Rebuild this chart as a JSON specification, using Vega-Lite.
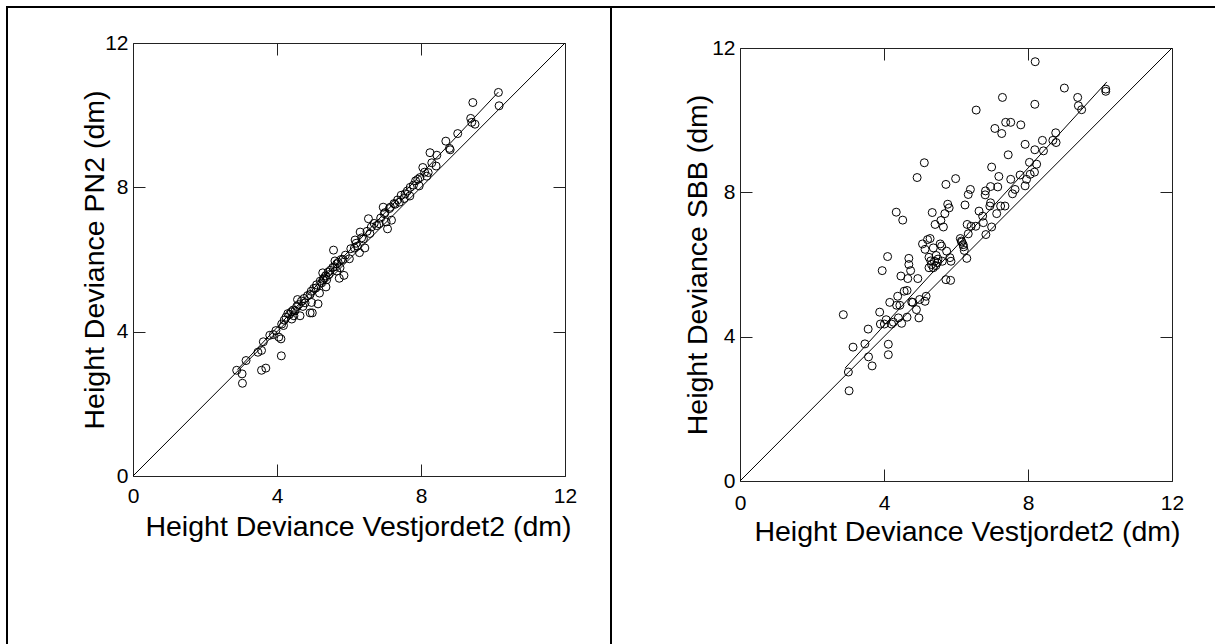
{
  "$schema": "https://vega.github.io/schema/vega-lite/v6.json",
  "padding": {"left": 6, "top": 6, "right": 0, "bottom": 0},
  "background": "white",
  "spacing": 0,
  "bounds": "flush",
  "config": {
    "view": {"stroke": "#000", "strokeWidth": 2},
    "axis": {
      "grid": false,
      "domainColor": "#222",
      "tickColor": "#222",
      "domainWidth": 1,
      "tickWidth": 1,
      "tickSize": -12,
      "labelFont": "Liberation Sans",
      "labelFontSize": 21,
      "labelColor": "#000",
      "labelFlush": false,
      "labelOverlap": false,
      "titleFont": "Liberation Sans",
      "titleFontSize": 28.5,
      "titleFontWeight": "normal",
      "titleColor": "#000"
    },
    "point": {"shape": "circle", "filled": false, "size": 64, "strokeWidth": 1, "color": "#000", "opacity": 1},
    "line": {"color": "#000", "strokeWidth": 1}
  },
  "datasets": {
    "diag": [{"x": 0, "y": 0}, {"x": 12, "y": 12}],
    "regL": [{"x": 2.9, "y": 2.95}, {"x": 10.15, "y": 10.64}],
    "regR": [{"x": 2.92, "y": 3.13}, {"x": 10.19, "y": 11.06}],
    "pn2": [
      {"x":2.88,"y":2.93},{"x":3.03,"y":2.83},{"x":3.04,"y":2.57},{"x":3.14,"y":3.20},{"x":3.57,"y":2.93},{"x":3.69,"y":2.99},{"x":3.47,"y":3.43},{"x":3.57,"y":3.48},{"x":4.12,"y":3.33},{"x":4.11,"y":3.80},{"x":4.05,"y":3.85},{"x":3.90,"y":3.92},{"x":3.97,"y":4.03},{"x":4.13,"y":4.21},{"x":4.18,"y":4.17},{"x":4.30,"y":4.50},{"x":4.41,"y":4.35},{"x":4.47,"y":4.44},{"x":4.50,"y":4.58},{"x":4.57,"y":4.89},{"x":4.64,"y":4.44},{"x":4.72,"y":4.70},{"x":4.78,"y":4.80},{"x":4.92,"y":4.52},{"x":4.98,"y":4.52},{"x":5.14,"y":4.77},{"x":4.92,"y":5.03},{"x":4.96,"y":4.81},{"x":5.08,"y":5.21},{"x":5.18,"y":5.07},{"x":5.24,"y":5.35},{"x":5.31,"y":5.49},{"x":5.38,"y":5.44},{"x":5.44,"y":5.58},{"x":5.27,"y":5.63},{"x":5.36,"y":5.24},{"x":5.57,"y":6.26},{"x":5.61,"y":5.96},{"x":5.66,"y":5.88},{"x":5.75,"y":5.77},{"x":5.86,"y":5.56},{"x":5.73,"y":5.48},{"x":5.66,"y":5.68},{"x":5.83,"y":6.00},{"x":6.01,"y":6.02},{"x":6.15,"y":6.32},{"x":6.17,"y":6.54},{"x":6.31,"y":6.76},{"x":6.40,"y":6.57},{"x":6.29,"y":6.19},{"x":6.44,"y":6.32},{"x":6.23,"y":6.37},{"x":6.54,"y":7.13},{"x":6.58,"y":6.72},{"x":6.77,"y":6.94},{"x":6.84,"y":6.99},{"x":6.95,"y":7.45},{"x":6.98,"y":7.27},{"x":7.07,"y":6.85},{"x":7.12,"y":7.41},{"x":7.18,"y":7.09},{"x":7.03,"y":7.04},{"x":7.28,"y":7.53},{"x":7.40,"y":7.59},{"x":7.53,"y":7.69},{"x":7.56,"y":7.82},{"x":7.62,"y":7.90},{"x":7.69,"y":7.76},{"x":7.79,"y":8.06},{"x":7.91,"y":8.22},{"x":7.95,"y":8.04},{"x":7.97,"y":8.27},{"x":8.05,"y":8.55},{"x":8.16,"y":8.31},{"x":8.20,"y":8.41},{"x":8.25,"y":8.96},{"x":8.42,"y":8.59},{"x":8.44,"y":8.89},{"x":8.69,"y":9.28},{"x":8.79,"y":9.08},{"x":8.81,"y":9.04},{"x":9.02,"y":9.49},{"x":9.38,"y":9.91},{"x":9.44,"y":10.35},{"x":9.41,"y":9.80},{"x":9.50,"y":9.75},{"x":10.15,"y":10.63},{"x":10.17,"y":10.26},
      {"x":4.20,"y":4.32},{"x":4.25,"y":4.40},{"x":4.35,"y":4.48},{"x":4.40,"y":4.55},{"x":4.45,"y":4.60},{"x":4.55,"y":4.70},{"x":4.60,"y":4.75},{"x":4.68,"y":4.85},{"x":4.75,"y":4.92},{"x":4.85,"y":5.00},{"x":4.95,"y":5.12},{"x":5.02,"y":5.20},{"x":5.10,"y":5.30},{"x":5.20,"y":5.40},{"x":5.28,"y":5.45},{"x":5.35,"y":5.55},{"x":5.42,"y":5.65},{"x":5.48,"y":5.70},{"x":5.55,"y":5.78},{"x":5.60,"y":5.80},{"x":5.70,"y":5.92},{"x":5.78,"y":6.00},{"x":5.90,"y":6.12},{"x":6.05,"y":6.30},{"x":6.20,"y":6.45},{"x":6.35,"y":6.60},{"x":6.50,"y":6.78},{"x":6.62,"y":6.90},{"x":6.70,"y":7.00},{"x":6.88,"y":7.15},{"x":7.00,"y":7.30},{"x":7.15,"y":7.45},{"x":7.25,"y":7.55},{"x":7.35,"y":7.65},{"x":7.45,"y":7.78},{"x":7.70,"y":8.00},{"x":7.85,"y":8.18},{"x":8.10,"y":8.42},{"x":8.30,"y":8.68},{"x":3.80,"y":3.90},{"x":3.62,"y":3.72}
    ],
    "sbb": [
      {"x":2.87,"y":4.61},{"x":3.01,"y":3.02},{"x":3.03,"y":2.50},{"x":3.14,"y":3.71},{"x":3.47,"y":3.80},{"x":3.56,"y":4.21},{"x":3.57,"y":3.44},{"x":3.67,"y":3.19},{"x":3.88,"y":4.68},{"x":3.90,"y":4.35},{"x":3.95,"y":5.83},{"x":4.01,"y":4.35},{"x":4.06,"y":4.47},{"x":4.12,"y":3.79},{"x":4.12,"y":3.50},{"x":4.10,"y":6.22},{"x":4.16,"y":4.95},{"x":4.21,"y":4.35},{"x":4.26,"y":4.40},{"x":4.34,"y":7.45},{"x":4.35,"y":4.87},{"x":4.38,"y":5.12},{"x":4.40,"y":4.52},{"x":4.44,"y":4.87},{"x":4.47,"y":5.68},{"x":4.49,"y":4.37},{"x":4.52,"y":7.23},{"x":4.56,"y":5.26},{"x":4.64,"y":5.28},{"x":4.64,"y":4.54},{"x":4.66,"y":5.61},{"x":4.69,"y":6.17},{"x":4.69,"y":6.00},{"x":4.74,"y":5.83},{"x":4.77,"y":4.96},{"x":4.90,"y":4.75},{"x":4.92,"y":8.41},{"x":4.94,"y":5.61},{"x":4.97,"y":4.52},{"x":4.99,"y":5.03},{"x":5.07,"y":6.57},{"x":5.12,"y":8.82},{"x":5.14,"y":6.42},{"x":5.14,"y":4.98},{"x":5.17,"y":5.12},{"x":5.21,"y":6.69},{"x":5.25,"y":5.91},{"x":5.25,"y":6.20},{"x":5.28,"y":6.72},{"x":5.32,"y":6.00},{"x":5.34,"y":7.44},{"x":5.37,"y":6.46},{"x":5.37,"y":5.91},{"x":5.40,"y":6.09},{"x":5.42,"y":7.11},{"x":5.44,"y":5.97},{"x":5.48,"y":6.05},{"x":5.56,"y":6.57},{"x":5.60,"y":6.51},{"x":5.58,"y":7.22},{"x":5.62,"y":6.09},{"x":5.65,"y":7.04},{"x":5.69,"y":7.41},{"x":5.72,"y":8.22},{"x":5.72,"y":5.58},{"x":5.74,"y":6.37},{"x":5.77,"y":7.67},{"x":5.81,"y":7.57},{"x":5.83,"y":6.19},{"x":5.85,"y":5.56},{"x":5.86,"y":6.09},{"x":5.99,"y":8.38},{"x":6.12,"y":6.72},{"x":6.16,"y":6.62},{"x":6.21,"y":6.49},{"x":6.23,"y":6.39},{"x":6.25,"y":7.65},{"x":6.30,"y":6.17},{"x":6.31,"y":7.11},{"x":6.34,"y":7.94},{"x":6.34,"y":6.85},{"x":6.40,"y":8.08},{"x":6.42,"y":7.06},{"x":6.55,"y":7.06},{"x":6.56,"y":10.28},{"x":6.64,"y":7.48},{"x":6.74,"y":7.34},{"x":6.76,"y":7.16},{"x":6.81,"y":7.93},{"x":6.82,"y":8.04},{"x":6.83,"y":6.83},{"x":6.94,"y":7.62},{"x":6.96,"y":7.71},{"x":6.96,"y":8.16},{"x":6.99,"y":7.04},{"x":6.99,"y":8.70},{"x":7.08,"y":9.77},{"x":7.13,"y":7.41},{"x":7.16,"y":8.15},{"x":7.19,"y":8.44},{"x":7.24,"y":7.62},{"x":7.27,"y":9.63},{"x":7.29,"y":10.63},{"x":7.36,"y":7.62},{"x":7.38,"y":9.94},{"x":7.45,"y":9.04},{"x":7.52,"y":9.94},{"x":7.52,"y":8.36},{"x":7.57,"y":7.96},{"x":7.64,"y":8.08},{"x":7.78,"y":8.48},{"x":7.80,"y":9.87},{"x":7.92,"y":9.33},{"x":7.92,"y":8.18},{"x":7.96,"y":8.36},{"x":8.04,"y":8.83},{"x":8.06,"y":8.50},{"x":8.18,"y":8.56},{"x":8.19,"y":9.18},{"x":8.19,"y":10.44},{"x":8.20,"y":11.62},{"x":8.24,"y":8.78},{"x":8.40,"y":9.44},{"x":8.43,"y":9.15},{"x":8.69,"y":9.44},{"x":8.77,"y":9.65},{"x":8.78,"y":9.38},{"x":9.01,"y":10.89},{"x":9.38,"y":10.63},{"x":9.40,"y":10.40},{"x":9.49,"y":10.29},{"x":10.16,"y":10.86},{"x":10.16,"y":10.80},
      {"x":5.30,"y":6.10},{"x":5.45,"y":6.25},{"x":5.50,"y":6.15},{"x":4.80,"y":4.95},{"x":6.15,"y":6.65},{"x":6.20,"y":6.55}
    ]
  },
  "hconcat": [
    {
      "width": 604,
      "height": 640,
      "layer": [
        {
          "data": {"name": "diag"},
          "mark": {"type": "line", "clip": false},
          "encoding": {
            "x": {"field": "x", "type": "quantitative", "scale": {"domain": [0, 12], "range": [126, 558], "nice": false, "zero": false},
              "axis": {"orient": "bottom", "offset": -171, "values": [0, 4, 8, 12], "format": "d", "labelPadding": 21, "title": "Height Deviance Vestjordet2 (dm)", "titleX": 351, "titleY": 59, "titleBaseline": "alphabetic", "titleAlign": "center"}},
            "y": {"field": "y", "type": "quantitative", "scale": {"domain": [0, 12], "range": [469, 36], "nice": false, "zero": false},
              "axis": {"orient": "left", "offset": -126, "values": [0, 4, 8, 12], "format": "d", "labelPadding": 17, "title": "Height Deviance PN2 (dm)", "titleX": -30, "titleBaseline": "alphabetic", "titleAngle": -90, "titleAlign": "center"}}
          }
        },
        {
          "data": {"name": "regL"},
          "mark": {"type": "line", "clip": false},
          "encoding": {
            "x": {"field": "x", "type": "quantitative", "scale": {"domain": [0, 12], "range": [126, 558], "nice": false, "zero": false},
              "axis": {"orient": "top", "offset": -36, "values": [0, 4, 8, 12], "labels": false, "title": null}},
            "y": {"field": "y", "type": "quantitative", "scale": {"domain": [0, 12], "range": [469, 36], "nice": false, "zero": false},
              "axis": {"orient": "right", "offset": -46, "values": [0, 4, 8, 12], "labels": false, "title": null}}
          }
        },
        {
          "data": {"name": "pn2"},
          "mark": {"type": "point", "clip": false},
          "encoding": {
            "x": {"field": "x", "type": "quantitative", "scale": {"domain": [0, 12], "range": [126, 558], "nice": false, "zero": false}, "axis": null},
            "y": {"field": "y", "type": "quantitative", "scale": {"domain": [0, 12], "range": [469, 36], "nice": false, "zero": false}, "axis": null}
          }
        }
      ],
      "resolve": {"axis": {"x": "independent", "y": "independent"}}
    },
    {
      "width": 606,
      "height": 640,
      "layer": [
        {
          "data": {"name": "diag"},
          "mark": {"type": "line", "clip": false},
          "encoding": {
            "x": {"field": "x", "type": "quantitative", "scale": {"domain": [0, 12], "range": [129, 561], "nice": false, "zero": false},
              "axis": {"orient": "bottom", "offset": -166, "values": [0, 4, 8, 12], "format": "d", "labelPadding": 23, "title": "Height Deviance Vestjordet2 (dm)", "titleX": 356, "titleY": 59, "titleBaseline": "alphabetic", "titleAlign": "center"}},
            "y": {"field": "y", "type": "quantitative", "scale": {"domain": [0, 12], "range": [474, 41], "nice": false, "zero": false},
              "axis": {"orient": "left", "offset": -129, "values": [0, 4, 8, 12], "format": "d", "labelPadding": 17, "title": "Height Deviance SBB (dm)", "titleX": -34, "titleBaseline": "alphabetic", "titleAngle": -90, "titleAlign": "center"}}
          }
        },
        {
          "data": {"name": "regR"},
          "mark": {"type": "line", "clip": false},
          "encoding": {
            "x": {"field": "x", "type": "quantitative", "scale": {"domain": [0, 12], "range": [129, 561], "nice": false, "zero": false},
              "axis": {"orient": "top", "offset": -41, "values": [0, 4, 8, 12], "labels": false, "title": null}},
            "y": {"field": "y", "type": "quantitative", "scale": {"domain": [0, 12], "range": [474, 41], "nice": false, "zero": false},
              "axis": {"orient": "right", "offset": -45, "values": [0, 4, 8, 12], "labels": false, "title": null}}
          }
        },
        {
          "data": {"name": "sbb"},
          "mark": {"type": "point", "clip": false},
          "encoding": {
            "x": {"field": "x", "type": "quantitative", "scale": {"domain": [0, 12], "range": [129, 561], "nice": false, "zero": false}, "axis": null},
            "y": {"field": "y", "type": "quantitative", "scale": {"domain": [0, 12], "range": [474, 41], "nice": false, "zero": false}, "axis": null}
          }
        }
      ],
      "resolve": {"axis": {"x": "independent", "y": "independent"}}
    }
  ]
}
